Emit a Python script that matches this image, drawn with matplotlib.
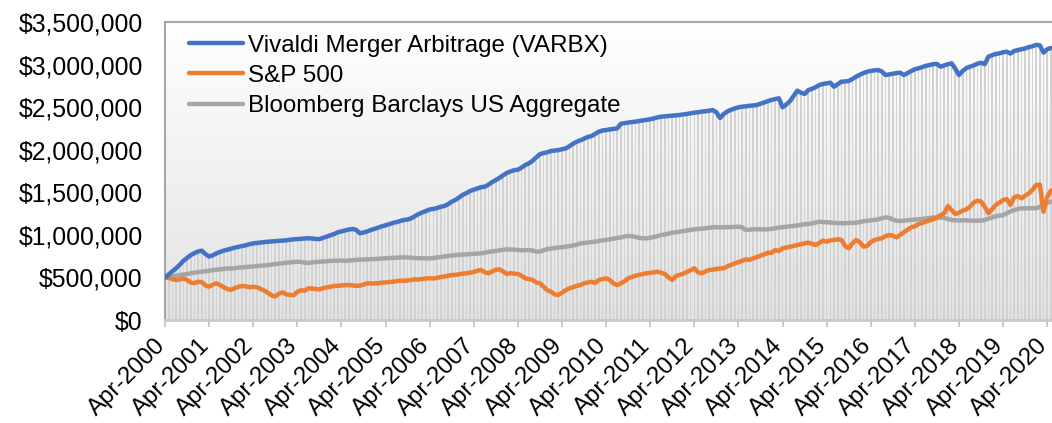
import matplotlib
matplotlib.use('Agg')
import matplotlib.pyplot as plt
from matplotlib.colors import LinearSegmentedColormap
from matplotlib.ticker import FuncFormatter, MultipleLocator
from matplotlib.transforms import ScaledTranslation
import numpy as np

plt.rcParams['font.family'] = ['Liberation Sans', 'DejaVu Sans']

# growth of $500,000, monthly, Apr-2000 .. May-2020 (values in $ thousands)
years = list(range(2000, 2021))
tick_labels = [f'Apr-{y}' for y in years]

varbx = [
    500, 535, 572, 607, 648, 695, 728, 762, 785, 805, 814, 775,
    745, 760, 783, 800, 815, 826, 838, 850, 860, 869, 878, 890,
    900, 905, 910, 915, 920, 922, 925, 930, 932, 936, 942, 948,
    950, 953, 958, 960, 957, 952, 950, 965, 980, 995, 1010, 1030,
    1040, 1052, 1062, 1069, 1060, 1018, 1028, 1040, 1057, 1070, 1085, 1100,
    1112, 1125, 1140, 1150, 1162, 1175, 1180, 1195, 1220, 1245, 1264, 1280,
    1298, 1304, 1315, 1330, 1339, 1360, 1390, 1410, 1440, 1470, 1490, 1515,
    1530, 1545, 1560, 1566, 1590, 1620, 1644, 1670, 1700, 1728, 1745, 1760,
    1765, 1790, 1820, 1840, 1870, 1910, 1948, 1960, 1970, 1985, 1990, 1995,
    2005, 2016, 2040, 2070, 2094, 2110, 2130, 2150, 2160, 2185, 2212, 2225,
    2232, 2240, 2245, 2250, 2305, 2312, 2318, 2325, 2330, 2338, 2345, 2350,
    2358, 2368, 2380, 2388, 2392, 2396, 2400, 2405, 2408, 2415, 2420, 2428,
    2435, 2440, 2448, 2452, 2458, 2466, 2440, 2372, 2420, 2450, 2470, 2485,
    2498, 2505, 2510, 2515, 2520, 2525, 2540, 2555, 2570, 2585, 2595, 2604,
    2498, 2530, 2570, 2630, 2693, 2670, 2654, 2700, 2715, 2735, 2760, 2772,
    2780, 2787, 2740, 2770, 2799, 2802, 2807, 2830, 2858, 2880, 2900, 2916,
    2925, 2932, 2936, 2920, 2877, 2885, 2892, 2900, 2905, 2877, 2900, 2925,
    2945, 2956, 2970, 2985, 2995, 3005, 3007, 2975, 2990, 3005, 3015, 2950,
    2877, 2925, 2960, 2975, 2990, 3010, 3022, 3005, 3093, 3110, 3125, 3132,
    3145, 3151, 3130, 3160, 3170, 3179, 3190, 3205, 3215, 3232, 3225, 3140,
    3180, 3195,
]

sp500 = [
    500, 495, 480, 470, 475, 488, 470, 440, 432, 450, 445, 405,
    392, 415, 431, 410, 385, 362, 355, 375, 391, 399, 395, 384,
    391, 385, 365, 345, 320, 290, 276, 310, 325, 300, 294, 292,
    330, 350, 344, 372, 370, 362, 360, 372, 385, 390, 399, 402,
    405, 410, 411, 408, 400, 405, 415, 431, 428, 430, 432, 438,
    442, 445, 450, 456, 462, 460, 465, 470, 478, 475, 482, 488,
    490, 488, 495, 505, 510, 520, 528, 530, 538, 545, 548, 555,
    565, 579, 587, 560, 548, 570, 590, 595, 570, 540, 550, 545,
    540, 520, 490, 480, 470, 440, 431, 390, 350, 333, 300, 294,
    320, 350, 372, 385, 400, 410, 431, 440, 450, 435, 470, 480,
    490, 470, 430, 411, 430, 455, 490, 505, 520, 530, 540, 548,
    555, 560, 567, 555, 540, 500, 470, 517, 530, 545, 565, 585,
    607, 560, 548, 570, 587, 590, 600, 605, 607, 630, 648, 666,
    680, 695, 713, 705, 724, 740, 755, 770, 790, 790, 822, 810,
    842, 850, 860, 870, 881, 890, 900, 908, 895, 881, 905, 932,
    920, 935, 940, 948, 942, 870, 842, 900, 940, 915, 861, 870,
    915, 940, 950, 960, 985, 998, 990, 971, 1000, 1030, 1060, 1089,
    1100, 1128, 1140, 1155, 1170, 1183, 1200, 1233, 1255, 1339, 1290, 1245,
    1260, 1284, 1300, 1330, 1380, 1401, 1390, 1331, 1253, 1300, 1351, 1380,
    1409, 1420, 1351, 1440, 1456, 1429, 1460, 1488, 1530, 1586, 1590, 1272,
    1448, 1520,
]

agg = [
    500, 505, 512, 520, 526, 532, 540, 548, 556, 562, 568, 572,
    579, 585, 590, 595, 600, 607, 604, 610, 615, 619, 622, 626,
    628, 634, 638, 640, 645, 652, 658, 662, 668, 672, 676, 680,
    685, 682, 673, 670, 676, 680, 684, 688, 690, 694, 695, 697,
    700, 694, 698, 702, 706, 708, 710, 712, 713, 715, 718, 722,
    725, 728, 730, 732, 734, 736, 734, 730, 728, 726, 725, 724,
    724, 728, 734, 740, 746, 752, 758, 763, 766, 770, 772, 775,
    778, 780, 783, 790, 798, 806, 812, 818, 824, 830, 828, 826,
    822, 818, 820, 822, 815, 805, 802, 820, 832, 840, 845, 850,
    855, 861, 868, 875, 885, 900, 905, 910, 915, 920, 928, 935,
    940, 948, 955, 962, 970, 980, 987, 985, 975, 965, 960, 959,
    965, 975, 985, 998, 1005, 1015, 1025, 1030, 1037, 1045, 1052, 1058,
    1065, 1068, 1072, 1078, 1084, 1089, 1090, 1088, 1089, 1090, 1092, 1094,
    1096, 1090, 1057, 1060, 1065, 1066, 1064, 1063, 1065, 1070, 1078, 1085,
    1090, 1096, 1100, 1104, 1110, 1118, 1124, 1128, 1135, 1145, 1155, 1150,
    1148, 1145, 1140, 1138, 1136, 1138, 1140, 1142, 1143, 1150, 1160, 1165,
    1172, 1175, 1182, 1195, 1206, 1200, 1180, 1165, 1163, 1168, 1172, 1175,
    1180, 1183, 1188, 1192, 1198, 1203, 1206, 1205, 1200, 1185, 1175, 1170,
    1168, 1172, 1170, 1168, 1165, 1168, 1167, 1175, 1190, 1205, 1218, 1225,
    1233, 1255, 1275, 1290, 1305, 1312, 1310, 1312, 1314, 1312, 1330, 1362,
    1375, 1390,
]

varbx = np.array(varbx) * 1000
sp500 = np.array(sp500) * 1000
agg = np.array(agg) * 1000
months = np.arange(len(varbx))

fig = plt.figure(figsize=(10.52, 4.23), dpi=100)
ax = fig.add_axes([165 / 1052, 1 - 320 / 423, 1 - 165 / 1052, (320 - 22) / 423])

xmax = months[-1] + 0.3
ymax = 3500000

# gradient plot-area background
grad = np.linspace(0, 1, 256).reshape(-1, 1)
cmap = LinearSegmentedColormap.from_list('bg', ['#ffffff', '#e3e3e3'])
ax.imshow(grad, cmap=cmap, extent=[0, xmax, 0, ymax], aspect='auto', zorder=0)

# thin gray columns under the VARBX line
ax.bar(months, varbx, width=0.45, color='#d2d2d2', linewidth=0, zorder=1)

ax.plot(months, agg, color='#A5A5A5', lw=3.2, zorder=3, solid_capstyle='round',
        label='Bloomberg Barclays US Aggregate')
ax.plot(months, sp500, color='#ED7D31', lw=3.2, zorder=4, solid_capstyle='round',
        label='S&P 500')
ax.plot(months, varbx, color='#4472C4', lw=3.2, zorder=5, solid_capstyle='round',
        label='Vivaldi Merger Arbitrage (VARBX)')

ax.set_xlim(0, xmax)
ax.set_ylim(0, ymax)

ax.yaxis.set_major_locator(MultipleLocator(500000))
ax.yaxis.set_major_formatter(FuncFormatter(lambda v, p: f'${v:,.0f}'))
ax.tick_params(axis='y', length=0, pad=16, labelsize=17.8)

ax.set_xticks(months[::12])
ax.set_xticklabels(tick_labels, rotation=45, ha='right', va='center',
                   rotation_mode='anchor', fontsize=17.3)
ax.tick_params(axis='x', length=5, width=1.2, color='#bfbfbf', pad=8)
shift = ScaledTranslation(-0.03, -0.04, fig.dpi_scale_trans)
for lbl in ax.get_xticklabels():
    lbl.set_transform(lbl.get_transform() + shift)

for side in ['left', 'top']:
    ax.spines[side].set_color('#a6a6a6')
    ax.spines[side].set_linewidth(1.5)
ax.spines['bottom'].set_color('#c8c8c8')
ax.spines['bottom'].set_linewidth(2)
ax.spines['right'].set_visible(False)

h, l = ax.get_legend_handles_labels()
ax.legend(h[::-1], l[::-1], loc='upper left', bbox_to_anchor=(0.016, 0.99),
          frameon=False, fontsize=17.4, handlelength=2.25, handletextpad=0.2,
          labelspacing=0.34, borderaxespad=0)

plt.savefig('out.png', dpi=100)
